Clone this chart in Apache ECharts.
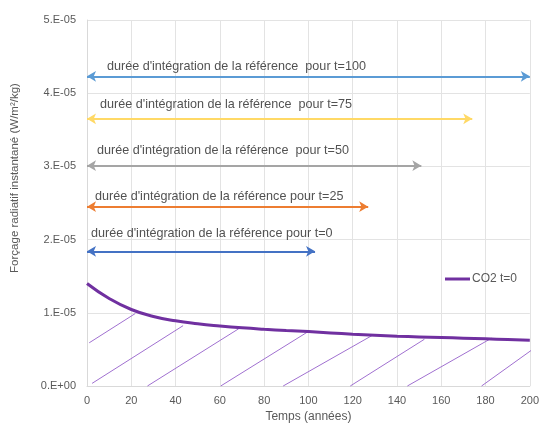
<!DOCTYPE html>
<html><head><meta charset="utf-8">
<script src="https://cdn.jsdelivr.net/npm/echarts@6/dist/echarts.min.js"></script>
<style>html,body{margin:0;padding:0;background:#fff}#c{width:542px;height:428px}</style>
</head><body><div id="c"></div>
<script>
// CO2 t=0 curve (x in years, y in W/m²/kg)
var years = [0, 10, 20, 30, 40, 50, 60, 70, 80, 90, 100, 110, 120, 130, 140, 150, 160, 170, 180, 190, 200];
var forcing = [1.40e-5, 1.195e-5, 1.045e-5, 0.95e-5, 0.89e-5, 0.85e-5, 0.82e-5, 0.795e-5, 0.775e-5, 0.758e-5, 0.743e-5, 0.725e-5, 0.708e-5, 0.694e-5, 0.681e-5, 0.671e-5, 0.662e-5, 0.653e-5, 0.644e-5, 0.635e-5, 0.626e-5];

// integration arrows: start x, end x, y level
var arrowLabels = ["durée d'intégration de la référence  pour t=100", "durée d'intégration de la référence  pour t=75", "durée d'intégration de la référence  pour t=50", "durée d'intégration de la référence pour t=25", "durée d'intégration de la référence pour t=0"];
var arrowStart = [0, 0, 0, 0, 0];
var arrowEnd = [200, 174, 151, 127, 103];
var arrowY = [4.23e-5, 3.65e-5, 3.01e-5, 2.45e-5, 1.84e-5];
var arrowColors = ['#5B9BD5', '#FFD966', '#A5A5A5', '#ED7D31', '#4472C4'];
// label anchor (data coordinates)
var labelX = [9, 5.9, 4.5, 3.6, 1.8];
var labelY = [4.365e-5, 3.85e-5, 3.216e-5, 2.595e-5, 2.08e-5];

// hatch segments under curve: [x1, y1] -> [x2, y2]
var hatchX1 = [1.0, 2.3, 27.3, 60.4, 88.6, 118.9, 144.7, 178.2];
var hatchY1 = [0.59e-5, 0.036e-5, 0, 0, 0, 0, 0, 0];
var hatchX2 = [21.8, 43.4, 68.6, 99.4, 128.7, 152.4, 182.7, 200.6];
var hatchY2 = [0.99e-5, 0.824e-5, 0.784e-5, 0.734e-5, 0.689e-5, 0.639e-5, 0.653e-5, 0.486e-5];

var chart = echarts.init(document.getElementById('c'), null, {renderer: 'canvas'});
var series = [];
hatchX1.forEach(function (x1, i) {
  series.push({
    type: 'line', name: 'hatch' + i, silent: true, clip: false, symbol: 'none',
    lineStyle: {color: '#A070D0', width: 1},
    data: [[x1, hatchY1[i]], [hatchX2[i], hatchY2[i]]],
    z: 1
  });
});
series.push({
  type: 'line', name: 'CO2 t=0', smooth: true, symbol: 'none',
  lineStyle: {color: '#7030A0', width: 3},
  itemStyle: {color: '#7030A0'},
  data: years.map(function (x, i) { return [x, forcing[i]]; }),
  z: 3
});
arrowLabels.forEach(function (t, i) {
  series.push({
    type: 'line', name: 'arrow' + i, silent: true, data: [],
    markLine: {
      silent: true, symbol: ['arrow', 'arrow'], symbolSize: [8, 9], precision: 10,
      label: {show: false},
      lineStyle: {color: arrowColors[i], width: 2, type: 'solid'},
      emphasis: {disabled: true},
      data: [[{coord: [arrowStart[i], arrowY[i]]}, {coord: [arrowEnd[i], arrowY[i]]}]]
    }
  });
});
series.push({
  type: 'scatter', name: 'labels', silent: true, symbolSize: 0,
  data: arrowLabels.map(function (t, i) { return {value: [labelX[i], labelY[i]], name: t}; }),
  label: {show: true, position: 'right', distance: 0, formatter: '{b}', color: '#262626',
    fontFamily: 'Liberation Sans', fontSize: 12.6},
  clip: false
});

chart.setOption({
  animation: false,
  grid: {left: 87, right: 12, top: 20, bottom: 38},
  legend: {
    data: ['CO2 t=0'], left: 440, top: 268, itemWidth: 25, itemHeight: 3, itemGap: 2,
    icon: 'rect',
    textStyle: {color: '#595959', fontSize: 12, fontFamily: 'Liberation Sans', padding: [0, 0, 0, -3]}
  },
  xAxis: {
    type: 'value', min: 0, max: 200, interval: 20,
    name: 'Temps (années)', nameLocation: 'middle', nameGap: 25,
    nameTextStyle: {color: '#595959', fontSize: 12, fontFamily: 'Liberation Sans'},
    axisLine: {show: true, lineStyle: {color: '#D9D9D9'}},
    axisTick: {show: false},
    axisLabel: {color: '#595959', fontSize: 11, fontFamily: 'Liberation Sans', margin: 9},
    splitLine: {show: true, lineStyle: {color: '#E3E3E3'}}
  },
  yAxis: {
    type: 'value', min: 0, max: 5e-5, interval: 1e-5,
    name: 'Forçage radiatif instantané (W/m²/kg)', nameLocation: 'middle', nameGap: 66,
    nameTextStyle: {color: '#595959', fontSize: 11.5, fontFamily: 'Liberation Sans', padding: [0, 0, 0, 50]},
    axisLine: {show: true, lineStyle: {color: '#D9D9D9'}},
    axisTick: {show: false},
    axisLabel: {color: '#595959', fontSize: 11, fontFamily: 'Liberation Sans', margin: 11,
      formatter: function (v) { var n = Math.round(v / 1e-5); return n === 0 ? '0.E+00' : n + '.E-05'; }},
    splitLine: {show: true, lineStyle: {color: '#E3E3E3'}}
  },
  series: series
});
</script></body></html>
